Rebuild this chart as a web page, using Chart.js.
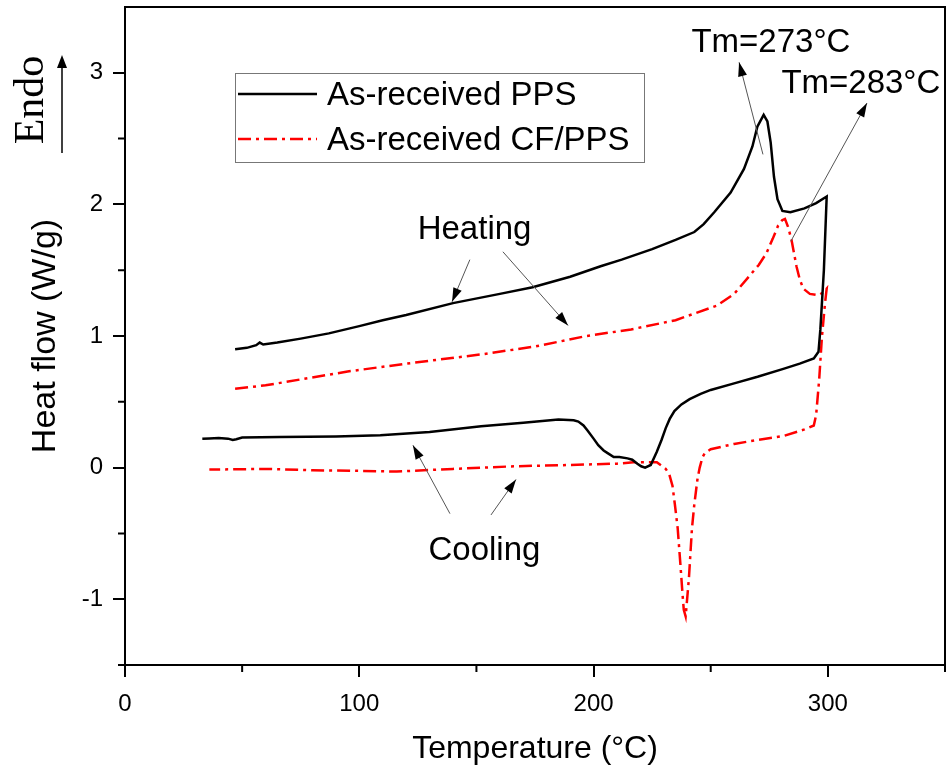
<!DOCTYPE html>
<html>
<head>
<meta charset="utf-8">
<script src="https://cdn.jsdelivr.net/npm/chart.js@4.4.0/dist/chart.umd.min.js"></script>
<style>
  html, body { margin: 0; padding: 0; background: #fff; }
  canvas { display: block; }
</style>
</head>
<body>
<canvas id="myChart" width="947" height="776"></canvas>
<script>
// DSC curves, heating run then cooling run (same dataset, drawn in order)
var ppsTemp = [47, 52, 56, 57.5, 59, 65, 75, 87, 100, 110, 120, 140, 160, 174, 190, 203, 212, 225, 235, 243, 247, 251.5,
  258.5, 264.2, 267.8, 269.9, 272.6, 274.2, 275.6, 277, 278.5, 280.6, 284, 290, 295, 299.5,
  298.3, 296.8, 296, 294, 288, 281, 270, 260, 250, 245.7, 241, 237.5, 234.5, 232.5, 230.8, 229, 227, 224.4, 222,
  220.3, 218.7, 216.5, 214.5, 211, 208.6, 206, 204.3, 202, 200, 197.5, 195.7, 193.5, 191.5, 185, 170, 152, 130,
  109, 90, 66, 50, 47.5, 46, 44, 40, 36, 33];
var ppsFlow = [0.90, 0.91, 0.93, 0.95, 0.935, 0.95, 0.98, 1.02, 1.075, 1.12, 1.16, 1.25, 1.32, 1.37, 1.45, 1.53, 1.58, 1.66, 1.73, 1.79, 1.85, 1.94,
  2.09, 2.27, 2.44, 2.59, 2.68, 2.63, 2.47, 2.21, 2.04, 1.95, 1.94, 1.97, 2.01, 2.06,
  1.5, 1.05, 0.88, 0.83, 0.79, 0.75, 0.69, 0.64, 0.59, 0.56, 0.52, 0.48, 0.43, 0.37, 0.30, 0.21, 0.12, 0.02, 0.0,
  0.01, 0.03, 0.06, 0.07, 0.08, 0.08, 0.11, 0.13, 0.17, 0.22, 0.28, 0.32, 0.35, 0.36, 0.365, 0.34, 0.315, 0.27,
  0.245, 0.237, 0.232, 0.228, 0.215, 0.21, 0.22, 0.225, 0.222, 0.22];

var cfTemp = [47, 60, 75, 95, 120, 152, 175, 197, 216, 235, 252.5, 260, 266.7, 270.5, 273.8, 276.5, 278.8, 280.5, 281.7, 283, 284.5,
  286.6, 288, 289.5, 292.3, 296, 298, 299.5,
  298.8, 297.5, 296.3, 295, 294, 290, 281, 270, 260, 250, 247.5, 246.5, 245.3, 244.4, 243, 242, 240.7, 239.3, 238.5,
  238, 237, 235.9, 234.7, 233.7, 232.3, 230.8, 227, 217, 210, 190, 166, 140, 116, 100, 80, 60, 36];
var cfFlow = [0.60, 0.625, 0.67, 0.73, 0.79, 0.86, 0.92, 1.00, 1.05, 1.12, 1.23, 1.32, 1.46, 1.54, 1.63, 1.74, 1.84, 1.88, 1.89, 1.83, 1.73,
  1.53, 1.43, 1.36, 1.32, 1.31, 1.33, 1.36,
  1.25, 1.0, 0.67, 0.40, 0.32, 0.29, 0.24, 0.21, 0.18, 0.14, 0.11, 0.08, 0.0, -0.08, -0.28, -0.46, -0.84, -1.13, -1.08,
  -0.97, -0.72, -0.46, -0.28, -0.14, -0.05, -0.01, 0.04, 0.04, 0.03, 0.02, 0.01, -0.01, -0.03, -0.025, -0.02, -0.01, -0.015];

var seriesLabels = ['As-received PPS', 'As-received CF/PPS'];
var xTicks = [0, 100, 200, 300];
var yTicks = [-1, 0, 1, 2, 3];
var xMinor = [50, 150, 250, 350];
var yMinor = [-1.5, -0.5, 0.5, 1.5, 2.5];

// annotation texts and arrows, in data units
var notes = [
  { text: 'Tm=273°C', x: 275.7, y: 3.16 },
  { text: 'Tm=283°C', x: 314.1, y: 2.85 },
  { text: 'Heating', x: 149.2, y: 1.74 },
  { text: 'Cooling', x: 153.4, y: -0.70 }
];
var arrows = [
  [272.3, 2.38, 262.1, 3.08],
  [284.2, 1.72, 316.7, 2.77],
  [147.2, 1.58, 139.6, 1.26],
  [161.3, 1.64, 189.1, 1.08],
  [138.7, -0.35, 122.9, 0.17],
  [156.2, -0.36, 166.9, -0.09]
];

var FONT = "'Liberation Sans', Arial, sans-serif";

function toPoints(xs, ys) {
  return xs.map(function (v, i) { return { x: v, y: ys[i] }; });
}

function arrowHead(ctx, x1, y1, x2, y2, len, w) {
  var a = Math.atan2(y2 - y1, x2 - x1);
  var c = Math.cos(a), s = Math.sin(a);
  ctx.beginPath();
  ctx.moveTo(x2, y2);
  ctx.lineTo(x2 - len * c + w / 2 * s, y2 - len * s - w / 2 * c);
  ctx.lineTo(x2 - len * c - w / 2 * s, y2 - len * s + w / 2 * c);
  ctx.closePath();
  ctx.fill();
}

var extras = {
  id: 'extras',
  afterDraw: function (chart) {
    var ctx = chart.ctx;
    var xs = chart.scales.x, ys = chart.scales.y;
    var area = chart.chartArea;
    ctx.save();
    // frame top/right
    ctx.strokeStyle = '#000';
    ctx.lineWidth = 2;
    ctx.beginPath();
    ctx.moveTo(area.left, area.top);
    ctx.lineTo(area.right, area.top);
    ctx.lineTo(area.right, area.bottom);
    ctx.stroke();
    // minor ticks
    ctx.beginPath();
    xMinor.forEach(function (v) {
      var px = xs.getPixelForValue(v);
      ctx.moveTo(px, area.bottom);
      ctx.lineTo(px, area.bottom + 7);
    });
    yMinor.forEach(function (v) {
      var py = ys.getPixelForValue(v);
      ctx.moveTo(area.left, py);
      ctx.lineTo(area.left - 7, py);
    });
    ctx.stroke();

    // legend
    var lx = 235, ly = 73, lw = 409, lh = 89;
    ctx.strokeStyle = '#777';
    ctx.lineWidth = 1;
    ctx.strokeRect(lx + 0.5, ly + 0.5, lw, lh);
    ctx.font = '33px ' + FONT;
    ctx.textBaseline = 'middle';
    ctx.textAlign = 'left';
    chart.data.datasets.forEach(function (ds, i) {
      var yy = ly + 21 + i * 45;
      ctx.strokeStyle = ds.borderColor;
      ctx.lineWidth = ds.borderWidth;
      ctx.setLineDash(ds.borderDash || []);
      ctx.beginPath();
      ctx.moveTo(lx + 3, yy);
      ctx.lineTo(lx + 82, yy);
      ctx.stroke();
      ctx.setLineDash([]);
      ctx.fillStyle = '#000';
      ctx.fillText(ds.label, lx + 92, yy + 2);
    });

    // annotations
    ctx.fillStyle = '#000';
    ctx.textAlign = 'center';
    ctx.textBaseline = 'alphabetic';
    notes.forEach(function (n) {
      ctx.fillText(n.text, xs.getPixelForValue(n.x), ys.getPixelForValue(n.y));
    });
    arrows.forEach(function (a) {
      var x1 = xs.getPixelForValue(a[0]), y1 = ys.getPixelForValue(a[1]);
      var x2 = xs.getPixelForValue(a[2]), y2 = ys.getPixelForValue(a[3]);
      ctx.strokeStyle = '#555';
      ctx.lineWidth = 1;
      ctx.beginPath();
      ctx.moveTo(x1, y1);
      ctx.lineTo(x2, y2);
      ctx.stroke();
      ctx.fillStyle = '#000';
      arrowHead(ctx, x1, y1, x2, y2, 14, 9);
    });

    // Endo label with arrow
    ctx.save();
    ctx.translate(43, 100);
    ctx.rotate(-Math.PI / 2);
    ctx.font = "42px 'Liberation Serif', 'Times New Roman', serif";
    ctx.textAlign = 'center';
    ctx.textBaseline = 'alphabetic';
    ctx.fillText('Endo', 0, 0);
    ctx.restore();
    ctx.strokeStyle = '#000';
    ctx.lineWidth = 1.5;
    ctx.beginPath();
    ctx.moveTo(62, 153);
    ctx.lineTo(62, 62);
    ctx.stroke();
    arrowHead(ctx, 62, 153, 62, 55, 13, 10);
    ctx.restore();
  }
};

var ctx = document.getElementById('myChart');
var myChart = new Chart(ctx, {
  type: 'line',
  data: {
    datasets: [{
      label: seriesLabels[0],
      data: toPoints(ppsTemp, ppsFlow),
      borderColor: '#000',
      borderWidth: 2.5,
      pointRadius: 0,
      fill: false,
      tension: 0
    }, {
      label: seriesLabels[1],
      data: toPoints(cfTemp, cfFlow),
      borderColor: '#ff0000',
      borderWidth: 2.5,
      borderDash: [13, 5, 3, 5],
      pointRadius: 0,
      fill: false,
      tension: 0
    }]
  },
  options: {
    responsive: false,
    animation: false,
    devicePixelRatio: 1,
    layout: { padding: { top: 7, right: 2, left: 0, bottom: 0 } },
    plugins: { legend: { display: false }, tooltip: { enabled: false } },
    scales: {
      x: {
        type: 'linear',
        min: 0,
        max: 350,
        afterFit: function (s) { s.height = 111; s.paddingLeft = 0; s.paddingRight = 0; },
        afterBuildTicks: function (s) { s.ticks = xTicks.map(function (v) { return { value: v }; }); },
        ticks: { color: '#000', font: { family: FONT, size: 24 }, padding: 13, maxRotation: 0 },
        grid: { drawOnChartArea: false, drawTicks: true, tickLength: 12, color: '#000', lineWidth: 2 },
        border: { display: true, color: '#000', width: 2 },
        title: { display: true, text: 'Temperature (°C)', color: '#000', font: { family: FONT, size: 32 }, padding: { top: 0, bottom: 8 } }
      },
      y: {
        type: 'linear',
        min: -1.5,
        max: 3.5,
        afterFit: function (s) { s.width = 125; s.paddingTop = 0; s.paddingBottom = 0; },
        afterBuildTicks: function (s) { s.ticks = yTicks.map(function (v) { return { value: v }; }); },
        ticks: { color: '#000', font: { family: FONT, size: 24 }, padding: 10 },
        grid: { drawOnChartArea: false, drawTicks: true, tickLength: 12, color: '#000', lineWidth: 2 },
        border: { display: true, color: '#000', width: 2 },
        title: { display: true, text: 'Heat flow (W/g)', color: '#000', font: { family: FONT, size: 34 }, padding: { top: 25, bottom: 0 } }
      }
    }
  },
  plugins: [extras]
});
</script>
</body>
</html>
